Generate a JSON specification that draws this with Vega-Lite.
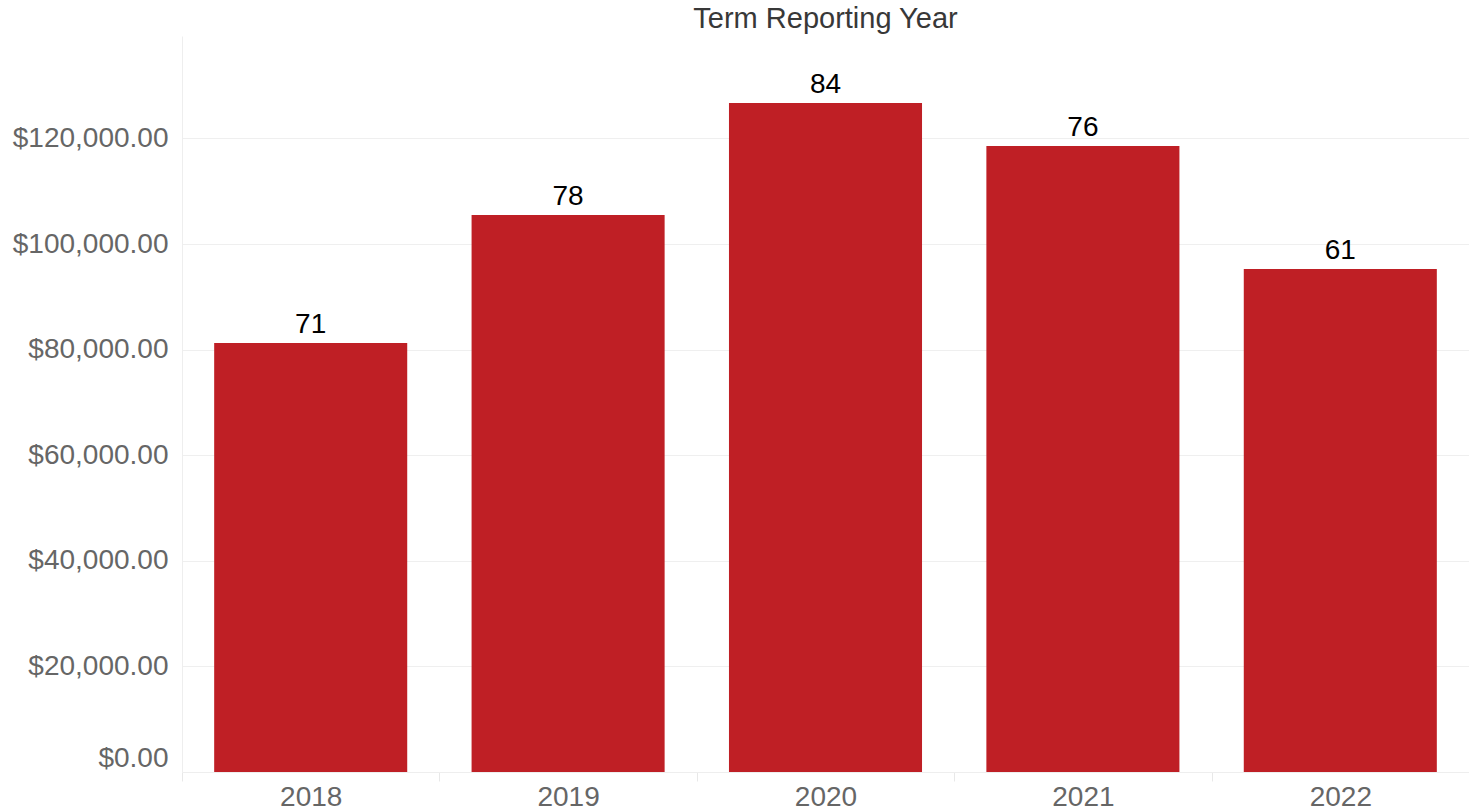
{
  "$schema": "https://vega.github.io/schema/vega-lite/v6.json",
  "autosize": {"type": "none"},
  "width": 1287,
  "height": 736,
  "padding": {"left": 182, "top": 36, "right": 0, "bottom": 39},
  "background": "white",
  "title": {
    "text": "Term Reporting Year",
    "fontSize": 29,
    "font": "Liberation Sans",
    "fontWeight": "normal",
    "color": "#383838",
    "anchor": "middle",
    "offset": 2
  },
  "data": {
    "values": [
      {"year": "2018", "amount": 81250, "count": 71},
      {"year": "2019", "amount": 105500, "count": 78},
      {"year": "2020", "amount": 126700, "count": 84},
      {"year": "2021", "amount": 118550, "count": 76},
      {"year": "2022", "amount": 95270, "count": 61}
    ]
  },
  "config": {
    "view": {"stroke": null},
    "font": "Liberation Sans"
  },
  "encoding": {
    "x": {
      "field": "year",
      "type": "ordinal",
      "sort": null,
      "scale": {"paddingInner": 0.25, "paddingOuter": 0.125},
      "axis": {
        "title": null,
        "labelAngle": 0,
        "labelFontSize": 28,
        "labelFont": "Liberation Sans",
        "labelColor": "#666666",
        "labelPadding": 2,
        "tickOffset": -128.7,
        "labelOffset": 128.7,
        "tickSize": 9,
        "tickColor": "#e8e8e8",
        "domainColor": "#eeeeee",
        "grid": false
      }
    }
  },
  "layer": [
    {
      "mark": {"type": "bar", "color": "#bf1f25"},
      "encoding": {
        "y": {
          "field": "amount",
          "type": "quantitative",
          "scale": {"domain": [0, 139400], "nice": false},
          "axis": {
            "title": null,
            "values": [0, 20000, 40000, 60000, 80000, 100000, 120000],
            "format": "$,.2f",
            "labelFontSize": 28,
            "labelFont": "Liberation Sans",
            "labelColor": "#666666",
            "labelPadding": 14,
            "labelFlush": true,
            "ticks": false,
            "domain": true,
            "domainColor": "#eeeeee",
            "gridColor": "#efefef",
            "gridWidth": 1.2
          }
        }
      }
    },
    {
      "mark": {"type": "text", "baseline": "alphabetic", "dy": -10, "fontSize": 28, "font": "Liberation Sans", "color": "#000000"},
      "encoding": {
        "y": {"field": "amount", "type": "quantitative"},
        "text": {"field": "count", "type": "quantitative"}
      }
    }
  ]
}
